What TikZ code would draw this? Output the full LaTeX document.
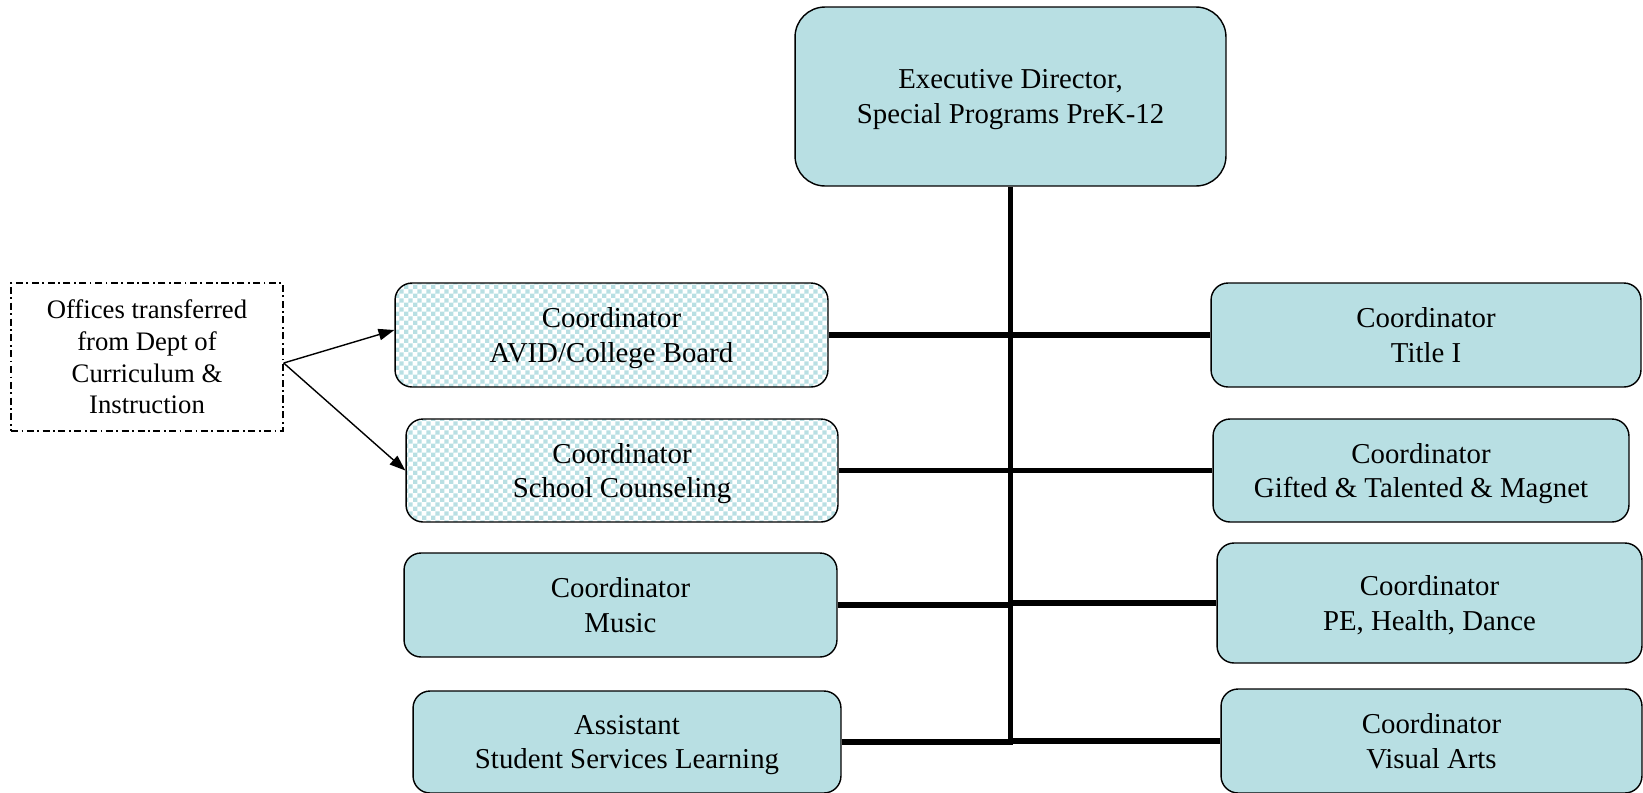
\documentclass[tikz,border=0pt]{standalone}
\usepackage{fontspec}
\setmainfont{Liberation Serif}
\usetikzlibrary{arrows.meta,patterns}
\definecolor{boxfill}{RGB}{184,223,227}
\pgfdeclarepatternformonly{mycheck}{\pgfpointorigin}{\pgfqpoint{5pt}{5pt}}{\pgfqpoint{5pt}{5pt}}{%
  \pgfpathrectangle{\pgfpointorigin}{\pgfqpoint{2.5pt}{2.5pt}}%
  \pgfpathrectangle{\pgfqpoint{2.5pt}{2.5pt}}{\pgfqpoint{2.5pt}{2.5pt}}%
  \pgfusepath{fill}}
\begin{document}
\begin{tikzpicture}[x=0.02cm,y=-0.02cm,
  orgbase/.style={draw=black,line width=0.8pt,rounded corners=0.34cm,align=center,inner sep=0pt,
    text depth=0pt,font=\fontsize{16.4}{19.8}\selectfont},
  orgbox/.style={orgbase,fill=boxfill},
  movedbox/.style={orgbase,pattern=mycheck,pattern color=boxfill},
  notebox/.style={draw=black,line width=0.8pt,dash pattern=on 4pt off 2pt on 1pt off 2pt,
    align=center,inner sep=0pt,font=\fontsize{15.2}{18.1}\selectfont},
  trunkline/.style={line width=3.2pt},
  arrowline/.style={line width=0.8pt,-{Triangle[length=9pt,width=6.5pt]}}]
\useasboundingbox (0,0) rectangle (1643,792);

\node[orgbox,rounded corners=0.6cm,minimum width=8.62cm,minimum height=3.58cm] (top) at (1010.5,96.5)
  {Executive Director,\\Special Programs PreK-12};

\node[notebox,minimum width=5.44cm,minimum height=2.96cm] (dash) at (147,357)
  {Offices transferred\\from Dept of\\Curriculum \&\\Instruction};

\node[movedbox,minimum width=8.66cm,minimum height=2.08cm] (avid) at (611.5,335)
  {Coordinator\\AVID/College Board};
\node[movedbox,minimum width=8.64cm,minimum height=2.06cm] (couns) at (622,470.5)
  {Coordinator\\School Counseling};
\node[orgbox,minimum width=8.66cm,minimum height=2.08cm] (music) at (620.5,605)
  {Coordinator\\Music};
\node[orgbox,minimum width=8.56cm,minimum height=2.04cm] (assist) at (627,742)
  {Assistant\\Student Services Learning};

\node[orgbox,minimum width=8.60cm,minimum height=2.08cm] (title) at (1426,335)
  {Coordinator\\Title I};
\node[orgbox,minimum width=8.32cm,minimum height=2.06cm] (gt) at (1421,470.5)
  {Coordinator\\Gifted \& Talented \& Magnet};
\node[orgbox,minimum width=8.50cm,minimum height=2.40cm] (pe) at (1429.5,603)
  {Coordinator\\PE, Health, Dance};
\node[orgbox,minimum width=8.42cm,minimum height=2.08cm] (va) at (1431.5,741)
  {Coordinator\\Visual Arts};

\draw[trunkline] (top.south) -- (top.south |- assist.east) -- (assist.east);
\draw[trunkline] (avid.east) -- (title.west);
\draw[trunkline] (couns.east) -- (gt.west);
\draw[trunkline] (music.east) -- (music.east -| top.south);
\draw[trunkline] (pe.west) -- (pe.west -| top.south);
\draw[trunkline] (va.west) -- (va.west -| top.south);

\draw[arrowline] ([yshift=-0.12cm]dash.east) -- ([yshift=0.1cm]avid.west);
\draw[arrowline] ([yshift=-0.12cm]dash.east) -- (couns.west);
\end{tikzpicture}
\end{document}
